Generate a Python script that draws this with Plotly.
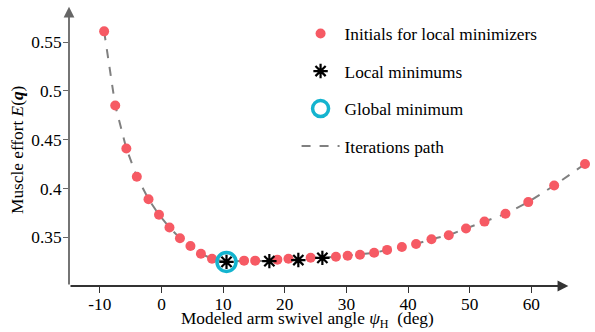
import plotly.graph_objects as go

# Data
init_x = [-9.3, -7.5, -5.7, -4.0, -2.1, -0.4, 1.3, 3.0, 4.7, 6.4, 8.2, 13.4, 15.2, 18.8, 20.6,
          24.2, 28.3, 30.2, 32.2, 34.5, 36.6, 39.0, 41.3, 43.8, 46.6, 49.4, 52.4, 55.8, 59.5, 63.7, 68.7]
init_y = [0.561, 0.485, 0.441, 0.412, 0.389, 0.373, 0.360, 0.349, 0.341, 0.333, 0.328, 0.326, 0.326, 0.327, 0.328,
          0.329, 0.330, 0.331, 0.332, 0.334, 0.337, 0.340, 0.343, 0.348, 0.352, 0.359, 0.366, 0.374, 0.386, 0.403, 0.425]
local_x = [10.55, 17.5, 22.2, 26.1]
local_y = [0.3247, 0.3255, 0.3266, 0.3288]
global_x = [10.55]
global_y = [0.3247]

x_ticks = [-10, 0, 10, 20, 30, 40, 50, 60]
x_tick_labels = ["-10", "0", "10", "20", "30", "40", "50", "60"]
y_ticks = [0.35, 0.4, 0.45, 0.5, 0.55]
y_tick_labels = ["0.35", "0.4", "0.45", "0.5", "0.55"]

path = sorted(zip(init_x + local_x, init_y + local_y))
path_x = [p[0] for p in path]
path_y = [p[1] for p in path]

RED = "#f65a64"
CYAN = "#14b4cf"
FONT = "Liberation Serif"
FS = dict(family=FONT, size=17.3, color="black")

fig = go.Figure()
fig.add_trace(go.Scatter(x=path_x, y=path_y, mode="lines", name="Iterations path",
                         line=dict(color="#808080", width=2, dash="dash"),
                         legendgroup="d", legendrank=4))
fig.add_trace(go.Scatter(x=init_x, y=init_y, mode="markers", name="Initials for local minimizers",
                         marker=dict(color=RED, size=10), legendgroup="a", legendrank=1))
fig.add_trace(go.Scatter(x=global_x, y=global_y, mode="markers", name="Global minimum",
                         marker=dict(symbol="circle-open", color=CYAN, size=19, line=dict(width=3.5, color=CYAN)),
                         legendgroup="c", legendrank=3))
fig.add_trace(go.Scatter(x=local_x, y=local_y, mode="markers", name="Local minimums",
                         marker=dict(symbol="asterisk-open", color="black", size=12, line=dict(width=2.2, color="black")),
                         legendgroup="b", legendrank=2))

x0, x1 = -15, 70
y0, y1 = 0.30, 0.587

# axis lines with arrows
fig.add_annotation(x=66, y=y0, ax=x0, ay=y0, xref="x", yref="y", axref="x", ayref="y",
                   showarrow=True, arrowhead=2, arrowsize=1.2, arrowwidth=1.8, arrowcolor="#333", text="")
fig.add_annotation(x=x0, y=0.5862, ax=x0, ay=y0, xref="x", yref="y", axref="x", ayref="y",
                   showarrow=True, arrowhead=2, arrowsize=1.2, arrowwidth=1.8, arrowcolor="#666", text="")

# axis titles
fig.add_annotation(x=0.4545, y=-0.12, xref="paper", yref="paper", xanchor="center", yanchor="middle",
                   text="Modeled arm swivel angle <i>ψ</i><sub>H</sub>  (deg)", showarrow=False, font=FS)
fig.add_annotation(x=-0.0993, y=0.4857, xref="paper", yref="paper", xanchor="center", yanchor="middle",
                   text="Muscle effort <i>E</i>(<b><i>q</i></b>)", textangle=-90, showarrow=False, font=FS)

fig.update_layout(
    template="none",
    width=595, height=332,
    margin=dict(l=69, r=2, t=6, b=46),
    plot_bgcolor="white", paper_bgcolor="white",
    font=FS,
    showlegend=True,
    legend=dict(x=0.4343, y=0.965, xanchor="left", yanchor="top", bgcolor="rgba(0,0,0,0)",
                font=FS, tracegroupgap=12, itemwidth=38),
)
fig.update_xaxes(range=[x0, x1], showgrid=False, zeroline=False, showline=False,
                 tickvals=x_ticks, ticktext=x_tick_labels, ticks="outside", ticklen=6, tickwidth=1.2,
                 tickcolor="#333", tickfont=FS, ticklabelstandoff=-4)
fig.update_yaxes(range=[y0, y1], showgrid=False, zeroline=False, showline=False,
                 tickvals=y_ticks, ticktext=y_tick_labels, ticks="outside", ticklen=5, tickwidth=1.2,
                 tickcolor="#666", tickfont=FS, ticklabelstandoff=-2)

fig.write_html("out.html")
